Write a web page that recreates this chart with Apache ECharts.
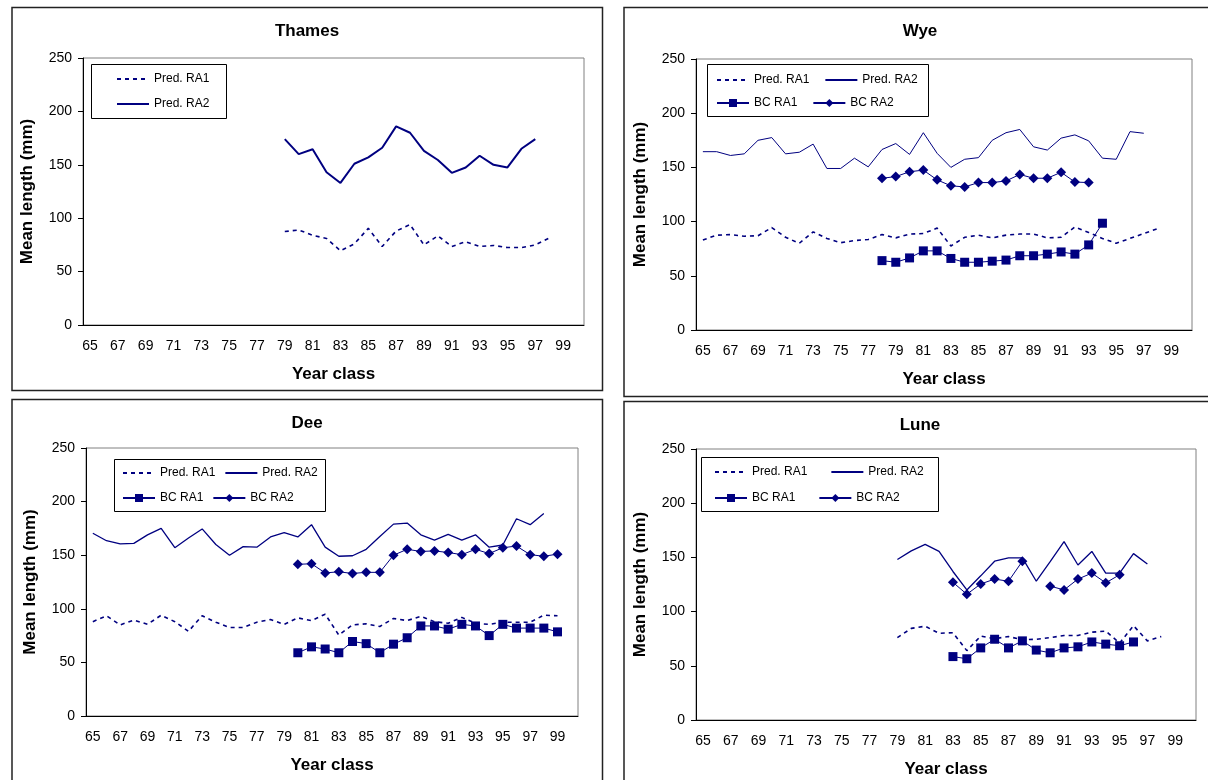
<!DOCTYPE html>
<html>
<head>
<meta charset="utf-8">
<script src="https://cdn.jsdelivr.net/npm/echarts@6/dist/echarts.min.js"></script>
<style>
  html, body { margin: 0; padding: 0; background: #fff; }
  #chart { width: 1208px; height: 780px; }
</style>
</head>
<body>
<div id="chart"></div>
<script>
// Year classes on the category axis (65 .. 100), labels shown every other one
const years = ['65', '66', '67', '68', '69', '70', '71', '72', '73', '74', '75', '76',
  '77', '78', '79', '80', '81', '82', '83', '84', '85', '86', '87', '88', '89', '90',
  '91', '92', '93', '94', '95', '96', '97', '98', '99', '100']

// Thames
const thamesPredStart = 79
const thamesPredRA1 = [87.5, 89, 84, 81, 69.5, 76, 90.5, 73.5, 88, 94, 75, 83.5, 73.5, 78, 73.5, 74.5, 72.5, 72.5, 75, 81.5]
const thamesPredRA2 = [174, 160, 164.5, 143, 133, 151, 157, 166, 186, 180, 163, 154.5, 142.5, 147.5, 158.5, 150, 147.5, 165, 174]

// Wye
const wyePredStart = 65
const wyePredRA1 = [83, 87.5, 88, 86.5, 87, 94.5, 85.5, 80, 90.5, 84.5, 80.5, 82.5, 83.5, 88, 85, 88.5, 89,
  94, 77.5, 85.5, 87.5, 85, 87.5, 88.5, 88.5, 85, 85.5, 95, 90, 84.5, 80, 84.5, 89, 93.5]
const wyePredRA2 = [164.5, 164.5, 161, 162.5, 175, 177.5, 162.5, 164, 171.5, 149, 149, 158.5, 150.5, 166.5,
  172, 162, 182, 163, 150, 157.5, 159, 175, 182, 185, 169, 166, 177, 180, 174.5, 158.5, 157.5, 183, 181.5]
const wyeBCStart = 78
const wyeBCRA1 = [64, 62.5, 66.5, 73, 73, 66, 62.5, 62.5, 63.5, 64.5, 68.5, 68.5, 70, 72, 70, 78.5, 98.5]
const wyeBCRA2 = [140, 141.5, 146, 147.5, 138.5, 133, 132, 136, 136, 137.5, 143.5, 140, 140, 145.5, 136.5, 136]

// Dee
const deePredStart = 65
const deePredRA1 = [88, 93.5, 85, 89.5, 85.5, 94, 88, 79, 93.5, 87.5, 82.5, 82.5, 87.5, 90, 85.5, 91.5, 89,
  95, 75.5, 85, 86, 83.5, 91, 89, 93, 88, 86.5, 92, 86.5, 85.5, 87.5, 87.5, 87.5, 94, 93.5]
const deePredRA2 = [170.5, 163.5, 160.5, 161, 169, 175, 157, 166, 174.5, 160, 150, 158, 157.5, 167, 171, 167,
  178.5, 157.5, 149, 149.5, 155.5, 167.5, 179, 180, 169, 164, 169.5, 164, 169, 157.5, 159.5, 184, 178.5, 189]
const deeBCStart = 80
const deeBCRA1 = [59, 64.5, 62.5, 59, 69.5, 67.5, 59, 67, 73, 84, 84, 81, 85.5, 84, 75, 85.5, 82, 82, 82, 78.5]
const deeBCRA2 = [141.5, 142, 133.5, 134.5, 133, 134, 134, 150, 155.5, 153.5, 154, 152.5, 150.5, 155.5, 151.5,
  157, 158.5, 150.5, 149, 151]

// Lune
const lunePredStart = 79
const lunePredRA1 = [76, 84.5, 86.5, 80, 80.5, 64, 77.5, 75, 77, 74, 74.5, 76, 78, 78, 81, 82, 71, 87, 73, 77]
const lunePredRA2 = [148, 156, 162, 155.5, 137, 120, 133, 146.5, 149.5, 149.5, 128, 146, 164.5, 143, 155.5,
  135.5, 135.5, 153.5, 144]
const luneBCStart = 83
const luneBCRA1 = [58.5, 56.5, 66.5, 74.5, 66.5, 73, 64.5, 62, 66.5, 67.5, 72, 70, 68.5, 72]
const luneBCRA2 = [127, 116, 125.5, 130, 128, 146.5, null, 123.5, 120, 130, 135.5, 126.5, 134]

const NAVY = '#000080'
const FONT = "'Liberation Sans', Arial, sans-serif"

// place values on the full year axis, leaving the other years empty
function pad(start, values) {
  const out = years.map(() => null)
  values.forEach((v, i) => { out[start - 65 + i] = v })
  return out
}

// legend entries: the predicted lines have no marker in the key
function legendItem(name) {
  return name.startsWith('Pred') ? { name, itemStyle: { opacity: 0 } } : { name }
}

const option = {
  animation: false,
  backgroundColor: '#fff',
  textStyle: { fontFamily: FONT, color: '#000' },
  title: [],
  grid: [],
  xAxis: [],
  yAxis: [],
  legend: [],
  series: [],
  graphic: [],
}

function addPanel(p) {
  const i = option.grid.length
  option.grid.push({ ...p.grid, show: true, borderColor: '#808080', borderWidth: 1, backgroundColor: 'transparent' })
  option.title.push({
    text: p.name, left: p.titleX, top: p.titleY, textAlign: 'center', padding: 0,
    textStyle: { fontFamily: FONT, fontSize: 17, fontWeight: 'bold', color: '#000' },
  })
  option.xAxis.push({
    type: 'category', gridIndex: i, data: years, boundaryGap: true,
    name: 'Year class', nameLocation: 'middle', nameGap: 41,
    nameTextStyle: { fontFamily: FONT, fontSize: 17, fontWeight: 'bold', color: '#000' },
    axisLine: { lineStyle: { color: '#000', width: 1 } },
    axisTick: { interval: 0, length: 4, inside: false, lineStyle: { color: '#000' } },
    axisLabel: { interval: 1, margin: 14, fontSize: 14, color: '#000', fontFamily: FONT },
    splitLine: { show: false },
  })
  option.yAxis.push({
    type: 'value', gridIndex: i, min: 0, max: 250, interval: 50,
    name: 'Mean length (mm)', nameLocation: 'middle', nameGap: 47,
    nameTextStyle: { fontFamily: FONT, fontSize: 17, fontWeight: 'bold', color: '#000' },
    axisLine: { show: true, lineStyle: { color: '#000', width: 1 } },
    axisTick: { show: true, length: 5, lineStyle: { color: '#000' } },
    axisLabel: { margin: 11, fontSize: 14, color: '#000', fontFamily: FONT },
    splitLine: { show: false },
  })

  option.series.push({
    name: 'Pred. RA1', type: 'line', xAxisIndex: i, yAxisIndex: i,
    data: pad(p.predStart, p.predRA1), symbol: 'none',
    lineStyle: { color: NAVY, width: 1.6, type: [4, 4] }, itemStyle: { color: NAVY },
  })
  option.series.push({
    name: 'Pred. RA2', type: 'line', xAxisIndex: i, yAxisIndex: i,
    data: pad(p.predStart, p.predRA2), symbol: 'none',
    lineStyle: { color: NAVY, width: p.ra2Width }, itemStyle: { color: NAVY },
  })
  if (p.bcRA1) {
    option.series.push({
      name: 'BC RA1', type: 'line', xAxisIndex: i, yAxisIndex: i,
      data: pad(p.bcStart, p.bcRA1), symbol: 'rect', symbolSize: 9, showAllSymbol: true,
      lineStyle: { color: NAVY, width: 1 }, itemStyle: { color: NAVY },
    })
    option.series.push({
      name: 'BC RA2', type: 'line', xAxisIndex: i, yAxisIndex: i,
      data: pad(p.bcStart, p.bcRA2), symbol: 'diamond', symbolSize: 10, showAllSymbol: true,
      lineStyle: { color: NAVY, width: 1 }, itemStyle: { color: NAVY },
    })
  }

  // panel frame and legend frame
  option.graphic.push({
    type: 'rect', shape: p.frame, silent: true,
    style: { fill: null, stroke: '#222', lineWidth: 1.5 },
  })
  option.graphic.push({
    type: 'rect', shape: p.legendBox, silent: true, z: 10,
    style: { fill: null, stroke: '#000', lineWidth: 1 },
  })

  const legendBase = {
    orient: 'horizontal', padding: 0, itemWidth: 32, itemHeight: 10,
    textStyle: { fontFamily: FONT, fontSize: 12, color: '#000', width: 60 },
  }
  p.legendRows.forEach((row) => {
    option.legend.push({ ...legendBase, ...row, data: row.names.map(legendItem) })
  })
}

addPanel({
  name: 'Thames', titleX: 307, titleY: 23,
  grid: { left: 83, top: 58, width: 501, height: 267 },
  predStart: thamesPredStart, predRA1: thamesPredRA1, predRA2: thamesPredRA2, ra2Width: 2,
  frame: { x: 12, y: 7.5, width: 590.5, height: 383 },
  legendBox: { x: 91.5, y: 64.5, width: 135, height: 54 },
  legendRows: [{ orient: 'vertical', left: 116, top: 73, itemGap: 13, names: ['Pred. RA1', 'Pred. RA2'] }],
})

addPanel({
  name: 'Wye', titleX: 920, titleY: 23,
  grid: { left: 696, top: 59, width: 496, height: 271 },
  predStart: wyePredStart, predRA1: wyePredRA1, predRA2: wyePredRA2, ra2Width: 1,
  bcStart: wyeBCStart, bcRA1: wyeBCRA1, bcRA2: wyeBCRA2,
  frame: { x: 624, y: 7.5, width: 600, height: 389 },
  legendBox: { x: 707.5, y: 64.5, width: 221, height: 52 },
  legendRows: [
    { left: 716, top: 74, itemGap: 15, names: ['Pred. RA1', 'Pred. RA2'] },
    { left: 716, top: 97, itemGap: 15, names: ['BC RA1', 'BC RA2'] },
  ],
})

addPanel({
  name: 'Dee', titleX: 307, titleY: 415,
  grid: { left: 86, top: 448, width: 492, height: 268 },
  predStart: deePredStart, predRA1: deePredRA1, predRA2: deePredRA2, ra2Width: 1.3,
  bcStart: deeBCStart, bcRA1: deeBCRA1, bcRA2: deeBCRA2,
  frame: { x: 12, y: 399.5, width: 590.5, height: 400 },
  legendBox: { x: 114.5, y: 459.5, width: 211, height: 52 },
  legendRows: [
    { left: 122, top: 467, itemGap: 9, names: ['Pred. RA1', 'Pred. RA2'] },
    { left: 122, top: 492, itemGap: 9, names: ['BC RA1', 'BC RA2'] },
  ],
})

addPanel({
  name: 'Lune', titleX: 920, titleY: 417,
  grid: { left: 696, top: 449, width: 500, height: 271 },
  predStart: lunePredStart, predRA1: lunePredRA1, predRA2: lunePredRA2, ra2Width: 1.3,
  bcStart: luneBCStart, bcRA1: luneBCRA1, bcRA2: luneBCRA2,
  frame: { x: 624, y: 401.5, width: 600, height: 400 },
  legendBox: { x: 701.5, y: 457.5, width: 237, height: 54 },
  legendRows: [
    { left: 714, top: 466, itemGap: 23, names: ['Pred. RA1', 'Pred. RA2'] },
    { left: 714, top: 492, itemGap: 23, names: ['BC RA1', 'BC RA2'] },
  ],
})

const chart = echarts.init(document.getElementById('chart'), null, { renderer: 'canvas' })
chart.setOption(option)
window.addEventListener('resize', () => chart.resize())
</script>
</body>
</html>
